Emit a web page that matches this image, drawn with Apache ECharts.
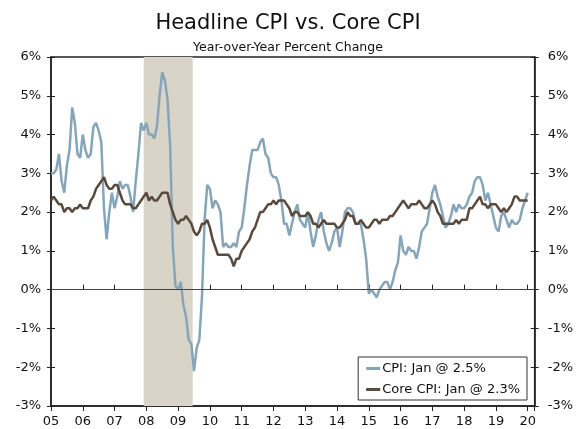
<!DOCTYPE html>
<html>
<head>
<meta charset="utf-8">
<script src="https://cdn.jsdelivr.net/npm/echarts@6/dist/echarts.min.js"></script>
<style>
  html, body { margin: 0; padding: 0; background: #fff; }
  #main { width: 576px; height: 429px; }
</style>
</head>
<body>
<div id="main"></div>
<script>
// monthly, Jan 2005 .. Jan 2020, year-over-year % change
var cpi = [
    3.0, 3.0, 3.1, 3.5, 2.8, 2.5, 3.2, 3.6, 4.7, 4.3, 3.5, 3.4,   // 2005
    4.0, 3.6, 3.4, 3.5, 4.2, 4.3, 4.1, 3.8, 2.1, 1.3, 2.0, 2.5,   // 2006
    2.1, 2.4, 2.8, 2.6, 2.7, 2.7, 2.4, 2.0, 2.8, 3.5, 4.3, 4.1,   // 2007
    4.3, 4.0, 4.0, 3.9, 4.2, 5.0, 5.6, 5.4, 4.9, 3.7, 1.1, 0.1,   // 2008
    0.0, 0.2, -0.4, -0.7, -1.3, -1.4, -2.1, -1.5, -1.3, -0.2, 1.8, 2.7, // 2009
    2.6, 2.1, 2.3, 2.2, 2.0, 1.1, 1.2, 1.1, 1.1, 1.2, 1.1, 1.5,   // 2010
    1.6, 2.1, 2.7, 3.2, 3.6, 3.6, 3.6, 3.8, 3.9, 3.5, 3.4, 3.0,   // 2011
    2.9, 2.9, 2.7, 2.3, 1.7, 1.7, 1.4, 1.7, 2.0, 2.2, 1.8, 1.7,   // 2012
    1.6, 2.0, 1.5, 1.1, 1.4, 1.8, 2.0, 1.5, 1.2, 1.0, 1.2, 1.5,   // 2013
    1.6, 1.1, 1.5, 2.0, 2.1, 2.1, 2.0, 1.7, 1.7, 1.7, 1.3, 0.8,   // 2014
    -0.1, 0.0, -0.1, -0.2, 0.0, 0.1, 0.2, 0.2, 0.0, 0.2, 0.5, 0.7, // 2015
    1.4, 1.0, 0.9, 1.1, 1.0, 1.0, 0.8, 1.1, 1.5, 1.6, 1.7, 2.1,   // 2016
    2.5, 2.7, 2.4, 2.2, 1.9, 1.6, 1.7, 1.9, 2.2, 2.0, 2.2, 2.1,   // 2017
    2.1, 2.2, 2.4, 2.5, 2.8, 2.9, 2.9, 2.7, 2.3, 2.5, 2.2, 1.9,   // 2018
    1.6, 1.5, 1.9, 2.0, 1.8, 1.6, 1.8, 1.7, 1.7, 1.8, 2.1, 2.3,   // 2019
    2.5                                                           // 2020
]

var coreCpi = [
    2.3, 2.4, 2.3, 2.2, 2.2, 2.0, 2.1, 2.1, 2.0, 2.1, 2.1, 2.2,   // 2005
    2.1, 2.1, 2.1, 2.3, 2.4, 2.6, 2.7, 2.8, 2.9, 2.7, 2.6, 2.6,   // 2006
    2.7, 2.7, 2.5, 2.3, 2.2, 2.2, 2.2, 2.1, 2.1, 2.2, 2.3, 2.4,   // 2007
    2.5, 2.3, 2.4, 2.3, 2.3, 2.4, 2.5, 2.5, 2.5, 2.2, 2.0, 1.8,   // 2008
    1.7, 1.8, 1.8, 1.9, 1.8, 1.7, 1.5, 1.4, 1.5, 1.7, 1.7, 1.8,   // 2009
    1.6, 1.3, 1.1, 0.9, 0.9, 0.9, 0.9, 0.9, 0.8, 0.6, 0.8, 0.8,   // 2010
    1.0, 1.1, 1.2, 1.3, 1.5, 1.6, 1.8, 2.0, 2.0, 2.1, 2.2, 2.2,   // 2011
    2.3, 2.2, 2.3, 2.3, 2.3, 2.2, 2.1, 1.9, 2.0, 2.0, 1.9, 1.9,   // 2012
    1.9, 2.0, 1.9, 1.7, 1.7, 1.6, 1.7, 1.8, 1.7, 1.7, 1.7, 1.7,   // 2013
    1.6, 1.6, 1.7, 1.8, 2.0, 1.9, 1.9, 1.7, 1.7, 1.8, 1.7, 1.6,   // 2014
    1.6, 1.7, 1.8, 1.8, 1.7, 1.8, 1.8, 1.8, 1.9, 1.9, 2.0, 2.1,   // 2015
    2.2, 2.3, 2.2, 2.1, 2.2, 2.2, 2.2, 2.3, 2.2, 2.1, 2.1, 2.2,   // 2016
    2.3, 2.2, 2.0, 1.9, 1.7, 1.7, 1.7, 1.7, 1.7, 1.8, 1.7, 1.8,   // 2017
    1.8, 1.8, 2.1, 2.1, 2.2, 2.3, 2.4, 2.2, 2.2, 2.1, 2.2, 2.2,   // 2018
    2.2, 2.1, 2.0, 2.1, 2.0, 2.1, 2.2, 2.4, 2.4, 2.3, 2.3, 2.3,   // 2019
    2.3                                                           // 2020
]

var startYear = 2005
var endYear = 2020
// recession Dec 2007 - Jun 2009
var recession = [2007 + 11 / 12, 2009 + 5.5 / 12]

var cpiName = 'CPI: Jan @ 2.5%'
var coreName = 'Core CPI: Jan @ 2.3%'

function toPoints(arr) {
    return arr.map(function (v, i) { return [startYear + i / 12, v] })
}

var font = 'DejaVu Sans'
var axisColor = '#222'

var yLeft = {
    type: 'value', position: 'left', min: -3, max: 6, interval: 1,
    axisLine: { show: true, lineStyle: { color: axisColor, width: 1.5 } },
    axisTick: { show: true, length: 4, lineStyle: { color: axisColor } },
    splitLine: { show: false },
    axisLabel: { formatter: '{value}%', color: '#111', fontFamily: font, fontSize: 13, margin: 10 }
}

function innerTicks(pos) {
    return {
        type: 'value', position: pos, min: -3, max: 6, interval: 1,
        axisLine: { show: false },
        axisTick: { show: true, inside: true, length: 4, lineStyle: { color: axisColor } },
        splitLine: { show: false },
        axisLabel: { show: false }
    }
}

var myChart = echarts.init(document.getElementById('main'))

var option = {
    backgroundColor: '#fff',
    animation: false,
    title: [
        { text: 'Headline CPI vs. Core CPI', left: 'center', top: 8,
          textStyle: { fontFamily: font, fontSize: 21, fontWeight: 'normal', color: '#111' } },
        { text: 'Year-over-Year Percent Change', left: 'center', top: 36,
          textStyle: { fontFamily: font, fontSize: 12.5, fontWeight: 'normal', color: '#111' } }
    ],
    grid: { left: 51, right: 41, top: 57, bottom: 23, show: true, borderColor: axisColor, borderWidth: 1.5 },
    legend: {
        orient: 'vertical',
        right: 49, bottom: 29,
        backgroundColor: '#fff',
        borderColor: '#333', borderWidth: 1,
        padding: [5, 7, 4, 8],
        itemGap: 8,
        itemWidth: 14, itemHeight: 3,
        icon: 'rect',
        textStyle: { fontFamily: font, fontSize: 13, color: '#111', padding: [0, 0, 0, -3] },
        data: [cpiName, coreName]
    },
    xAxis: [
        {
            type: 'value', min: startYear, max: endYear + 0.22, interval: 1,
            axisLine: { show: true, onZero: false, lineStyle: { color: axisColor, width: 1.5 } },
            axisTick: { show: true, length: 5, lineStyle: { color: axisColor } },
            splitLine: { show: false },
            axisLabel: {
                color: '#111', fontFamily: font, fontSize: 13, margin: 9,
                formatter: function (v) {
                    if (Math.abs(v - Math.round(v)) > 1e-6 || v > endYear) return ''
                    return String(v % 100).padStart(2, '0')
                }
            }
        },
        {
            type: 'value', position: 'bottom', min: startYear, max: endYear + 0.22, interval: 1,
            axisLine: { show: false },
            axisTick: { show: true, inside: true, length: 5, lineStyle: { color: axisColor } },
            splitLine: { show: false },
            axisLabel: { show: false }
        }
    ],
    yAxis: [
        yLeft,
        Object.assign({}, yLeft, { position: 'right',
            axisLabel: Object.assign({}, yLeft.axisLabel, { margin: 13 }) }),
        innerTicks('left'),
        innerTicks('right')
    ],
    series: [
        {
            name: 'recession', type: 'line', data: [], z: 1, silent: true,
            markArea: {
                silent: true,
                itemStyle: { color: '#d8d4c7' },
                data: [[{ xAxis: recession[0] }, { xAxis: recession[1] }]]
            },
            markLine: {
                silent: true, symbol: 'none', label: { show: false },
                lineStyle: { color: '#444', width: 1.2, type: 'solid' },
                data: [{ yAxis: 0 }]
            }
        },
        {
            name: cpiName, type: 'line', data: toPoints(cpi), z: 3,
            showSymbol: false, symbol: 'none',
            lineStyle: { color: '#87a5b8', width: 2.5 },
            itemStyle: { color: '#87a5b8' }
        },
        {
            name: coreName, type: 'line', data: toPoints(coreCpi), z: 4,
            showSymbol: false, symbol: 'none',
            lineStyle: { color: '#5a4a3e', width: 2.5 },
            itemStyle: { color: '#5a4a3e' }
        }
    ]
}

myChart.setOption(option)
</script>
</body>
</html>
